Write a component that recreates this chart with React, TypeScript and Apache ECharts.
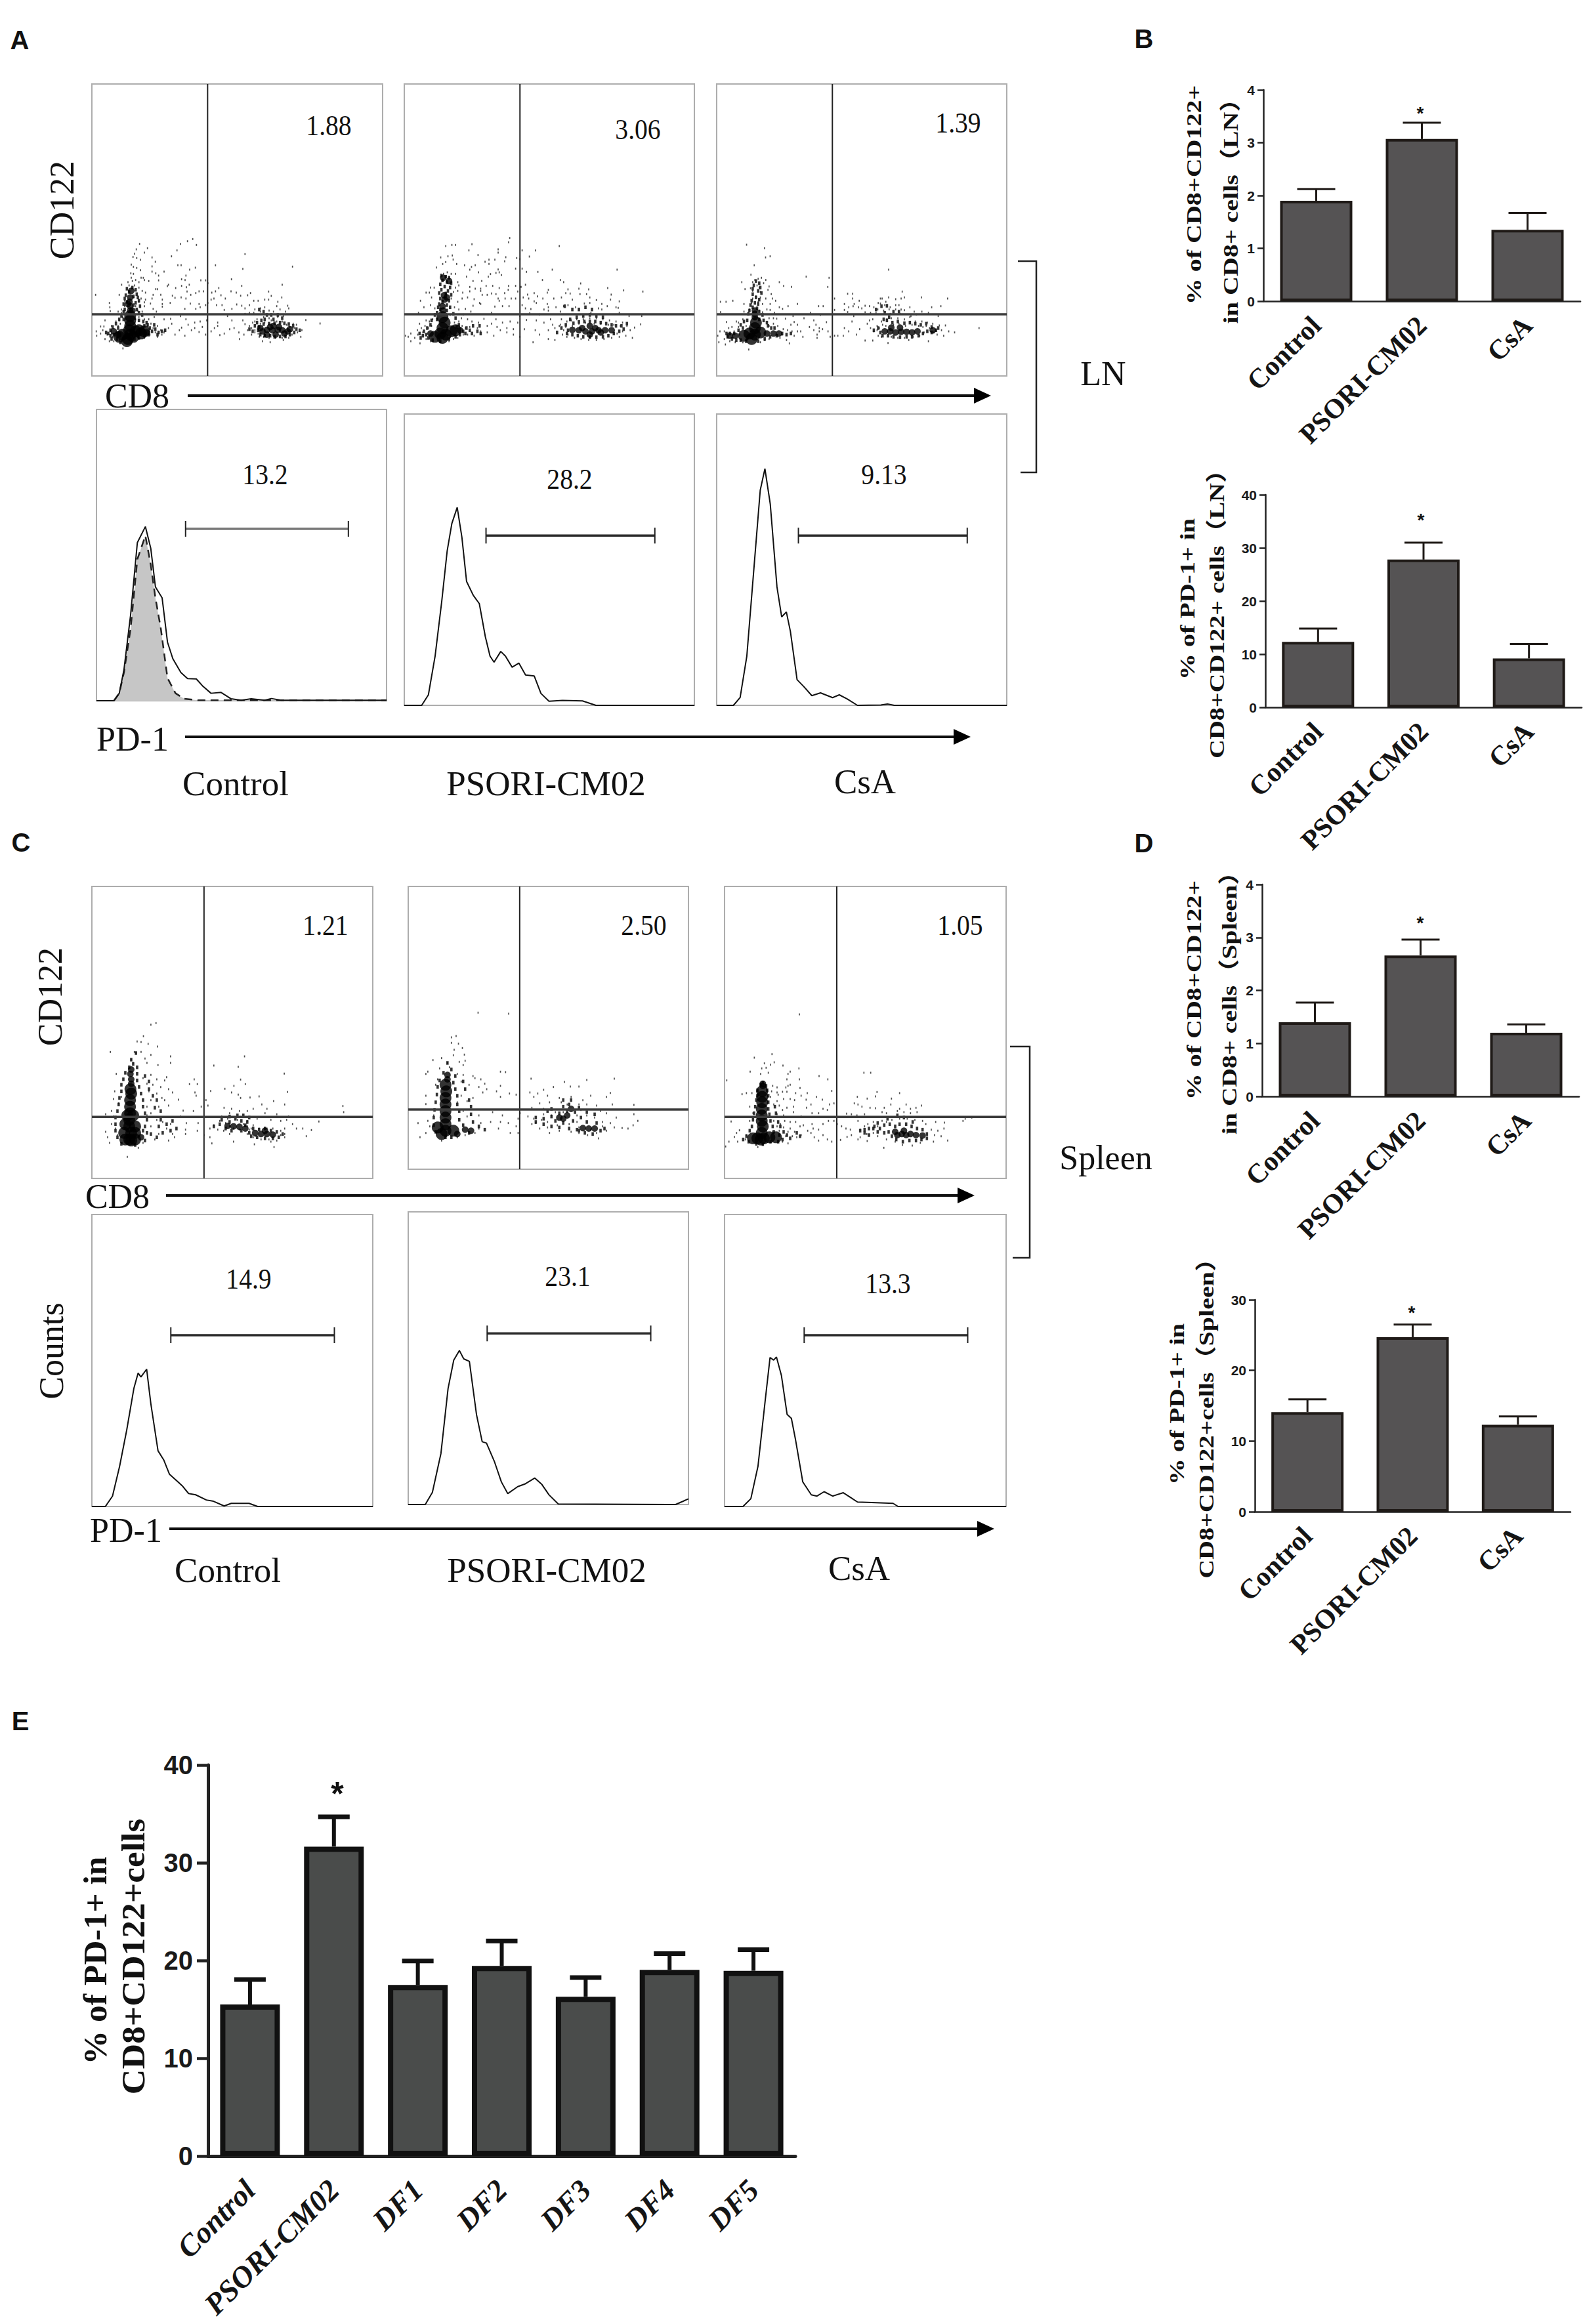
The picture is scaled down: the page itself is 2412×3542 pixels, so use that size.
import React, { useEffect, useRef } from "react";
import * as echarts from "echarts";

// ---------- bar panels ----------
const cats3 = ["Control", "PSORI-CM02", "CsA"];
const catsE = ["Control", "PSORI-CM02", "DF1", "DF2", "DF3", "DF4", "DF5"];
const lnCd122 = [1.9, 3.07, 1.35];
const lnCd122Err = [2.12, 3.38, 1.67];
const lnPd1 = [12.3, 27.8, 9.2];
const lnPd1Err = [14.8, 31, 11.9];
const spCd122 = [1.4, 2.66, 1.2];
const spCd122Err = [1.77, 2.96, 1.36];
const spPd1 = [14.1, 24.7, 12.3];
const spPd1Err = [15.9, 26.5, 13.5];
const dfPd1 = [15.5, 31.65, 17.5, 19.45, 16.3, 19.05, 18.95];
const dfPd1Err = [18.05, 34.7, 19.95, 22, 18.25, 20.7, 21.1];

// ---------- histograms (PD-1 channel, counts channel) ----------
const histLn1 = [144,1112,170,1112,178,1085,185,1000,195,800,205,540,217,482,225,560,232,700,242,740,250,900,258,960,270,1010,280,1032,293,1033,303,1060,315,1085,330,1082,345,1105,360,1110,375,1105,395,1110,405,1104,420,1110,577,1110];
const histLn1Iso = [170,1112,178,1085,185,1010,195,850,205,600,217,515,225,620,232,740,240,850,250,1030,262,1085,275,1105,295,1110,577,1110];
const histLn2 = [604,1128,630,1128,640,1090,650,950,660,750,668,570,675,470,683,412,690,520,697,680,707,730,716,760,725,880,732,950,738,972,748,933,755,950,765,990,775,975,785,1018,798,1022,808,1085,820,1113,840,1110,870,1112,890,1128,1037,1128];
const histLn3 = [1070,1128,1095,1128,1105,1100,1115,950,1125,650,1135,350,1142,272,1150,400,1160,700,1167,808,1174,790,1180,860,1190,1035,1200,1060,1212,1093,1225,1083,1243,1100,1253,1090,1265,1105,1280,1128,1315,1127,1325,1123,1335,1128,1503,1128];
const histSp1 = [129,1155,148,1155,158,1115,168,1000,178,860,188,700,194,640,198,655,206,625,212,760,222,940,230,975,238,1030,248,1055,256,1075,265,1105,275,1110,290,1130,300,1135,315,1153,325,1143,350,1143,362,1155,524,1155];
const histSp2 = [574,1147,598,1147,608,1100,620,950,630,700,638,590,646,553,652,585,660,595,670,800,678,905,684,910,695,980,705,1060,714,1105,728,1078,738,1068,752,1045,762,1070,772,1110,785,1145,950,1147,960,1135,968,1125];
const histSp3 = [1018,1155,1044,1155,1055,1125,1065,1000,1075,750,1082,580,1087,590,1091,578,1098,650,1106,800,1112,815,1118,900,1128,1060,1140,1110,1148,1115,1158,1098,1170,1115,1185,1102,1195,1120,1205,1138,1225,1140,1255,1143,1262,1155,1414,1155];

// ---------- flow cytometry dot plots (CD8 channel, CD122 channel, read point by point) ----------
const ln1Dense = [165,530,175,510,170,490,175,470,200,495,225,505,140,510,175,445,175,425,160,540,125,520,215,490,240,495,190,520];
const ln1Core = [175,400,175,380,172,360,175,340,180,310,165,370,185,400,120,510,100,495,250,500,830,470,780,495,800,510,840,510,880,505,905,485,770,480,800,488,825,490,850,488,870,490,895,495,815,475,855,475];
const ln1Mid = [160,300,185,295,200,305,170,315,205,325,155,330,190,335,210,340,150,345,215,355,160,360,200,365,145,370,190,375,220,380,150,395,205,395,145,405,215,410,230,420,135,425,125,440,145,440,215,445,235,450,250,455,110,460,120,480,95,475,85,490,100,510,85,515,75,505,65,500,90,530,115,530,130,545,195,530,215,525,240,515,260,510,275,495,265,480,255,465,240,470,290,485,305,500,285,465,300,510,320,495,335,490,720,485,735,495,745,470,755,455,775,445,760,490,770,510,790,515,815,515,835,520,860,518,885,518,905,510,925,500,935,485,920,470,900,462,880,458,860,455,835,458,810,460,785,462,765,475,950,490,790,440,830,440,800,420,785,405,765,395,820,420,850,420,870,435];
const ln1Dots = [218,95,254,115,203,120,240,135,195,140,188,155,205,160,222,168,275,157,290,177,364,152,389,125,405,95,437,83,461,73,478,100,180,190,190,200,205,205,222,215,275,198,393,193,408,193,447,213,473,204,330,222,275,222,292,230,305,240,178,230,190,232,235,250,430,240,410,257,426,260,498,262,520,262,530,275,305,262,260,265,565,193,700,142,690,209,917,199,638,257,685,287,870,282,808,313,180,250,165,270,200,260,215,270,240,260,225,250,185,265,170,285,195,285,215,295,230,310,245,318,136,282,350,282,345,288,383,297,410,287,432,293,445,282,300,302,292,302,280,328,315,328,368,332,322,350,322,370,322,382,358,365,380,342,408,340,430,345,435,313,452,328,475,320,490,312,510,312,548,318,565,312,580,297,590,330,610,345,636,312,660,318,680,332,712,330,725,320,820,333,868,340,125,328,17,328,80,365,82,385,84,403,120,405,135,395,245,350,240,362,275,345,268,368,280,392,295,405,425,392,450,368,475,392,490,370,495,385,520,375,530,365,545,350,558,345,570,375,595,375,605,397,640,392,662,372,685,378,700,390,720,375,740,355,760,355,790,350,808,350,850,360,845,380,895,378,900,390,745,395,770,390,790,385,810,400,830,405,860,395,885,405,720,410,700,415,740,410,770,405,285,430,330,440,360,438,405,425,430,440,470,455,495,450,525,445,575,455,620,425,640,445,690,445,700,462,720,470,735,455,755,440,785,430,810,435,850,430,875,425,920,460,978,443,1043,459,300,470,315,490,330,500,350,480,365,460,380,510,400,490,410,478,425,515,440,465,455,490,470,480,490,498,505,475,520,510,545,495,560,480,575,470,585,512,605,505,630,485,650,480,672,500,675,530,695,510,712,490,730,480,745,500,765,520,780,540,815,545,875,535,955,520,960,490,935,465,20,495,22,515,40,473,55,473,40,505,70,510,60,530,80,540,100,540,50,490,90,470,110,450,125,445,60,445,130,460,120,470,140,430,110,500,90,505,95,520,125,535,200,440,215,430,240,440,260,440,270,460,280,480,290,500,255,470,265,510,240,525,300,520,320,510,210,400,230,405,200,380,215,360,240,380,190,340,225,345,150,355,150,380,135,410,745,450,760,470,770,460,790,455,820,445,845,450,870,450,890,465,905,475,925,480,940,500,915,510,900,525,870,525,840,525,810,525,785,520,760,505,745,490,730,510,142,573];
const ln2Dense = [175,525,190,510,165,505,215,495,175,480,185,455,175,430,140,520,235,490];
const ln2Core = [178,400,175,380,185,350,182,330,178,250,205,265,195,340,120,505,255,490,800,490,830,495,860,495,890,490,920,490,770,488,950,490,850,510,850,470,815,480,875,480,900,500];
const ln2Mid = [170,240,190,245,205,250,175,262,195,270,215,275,165,280,185,290,210,295,170,305,200,310,160,320,190,322,215,328,165,345,205,355,175,360,160,370,195,375,155,385,210,385,165,395,195,400,150,410,225,415,140,420,235,435,150,440,125,445,120,465,105,480,90,495,100,510,110,525,85,515,75,525,70,505,130,535,165,540,205,530,235,520,255,510,270,495,285,480,300,490,315,470,250,465,240,475,280,505,310,505,335,495,350,505,345,470,700,500,720,480,740,465,750,490,745,505,770,510,795,515,820,520,850,522,880,522,910,520,935,515,960,505,985,495,1005,485,1020,460,995,470,970,470,950,465,925,460,900,455,875,450,850,450,825,450,800,452,775,458,760,440,790,430,820,425,850,420,880,425,910,430,800,395,830,385,770,395,735,380,860,395];
const ln2Dots = [483,68,478,88,710,105,601,125,540,125,430,120,430,135,310,97,296,125,235,100,218,100,190,105,338,146,573,153,465,156,530,165,515,160,220,148,200,152,167,157,224,167,190,178,176,187,240,187,276,193,325,193,388,167,388,187,370,177,415,167,460,175,147,203,300,213,308,200,510,208,540,208,430,212,435,225,420,228,445,238,678,213,975,213,612,223,560,223,197,225,180,232,215,232,235,232,340,225,395,233,385,245,355,265,285,245,315,265,245,270,250,285,633,260,715,260,730,270,808,276,555,282,535,292,510,287,478,287,435,297,375,287,405,287,350,300,325,300,300,292,932,297,1005,308,1093,313,800,300,845,303,750,303,660,305,655,318,520,313,476,305,460,320,400,322,420,325,380,328,357,328,350,310,300,312,268,318,265,345,100,318,115,318,125,340,137,295,120,295,74,355,90,385,120,375,140,390,65,410,225,315,245,310,235,295,215,345,245,360,230,385,250,395,290,340,320,348,345,365,350,370,315,378,280,392,305,405,430,345,435,355,490,345,510,345,462,345,450,380,480,380,415,382,565,327,595,320,610,335,545,340,570,345,595,358,605,365,635,345,655,370,660,385,540,375,555,390,580,393,640,395,660,400,685,345,720,340,740,320,760,322,805,325,835,325,850,340,770,350,730,380,695,385,715,405,750,375,785,385,825,368,850,365,880,352,905,370,890,390,948,327,985,358,970,385,980,388,945,350,930,380,905,395,400,410,270,418,210,420,575,412,620,418,855,410,985,410,1030,425,1088,425,1083,463,1055,478,1045,525,262,435,290,440,310,450,340,455,365,438,400,460,420,440,450,455,485,450,520,455,530,425,560,443,605,445,640,455,670,440,680,465,550,485,600,490,620,510,660,490,690,480,710,470,725,510,745,520,690,535,660,530,590,545,530,520,500,510,470,500,440,490,410,515,380,500,350,495,320,515,290,510,270,500,300,475,335,480,380,470,425,475,470,480,500,485,720,440,745,450,765,445,790,440,820,440,850,435,880,435,910,440,940,445,970,450,1000,455,1020,470,1035,490,1015,515,985,520,950,525,915,530,880,535,845,535,810,530,780,525,750,510,730,490,715,465,740,475,990,470,1000,495,975,505,960,465,935,465,900,460,870,460,830,455,800,460,770,470,5,515,18,520,30,505,30,540,48,525,72,550,62,510,78,480,70,460,95,470,110,480,60,490,85,500,100,530,120,540,115,450,130,440,125,470,100,445,230,455,250,450,265,470,280,480,270,510,245,525,225,530,205,540,165,545];
const ln3Dense = [160,530,175,510,150,505,200,500,175,480,180,455,125,515];
const ln3Core = [175,430,175,415,175,400,60,515,85,515,230,505,260,505,285,505,770,495,795,495,820,500,845,497,870,497,895,500,920,495,990,490,800,478,840,478];
const ln3Mid = [180,265,195,275,170,285,200,295,165,300,190,310,205,320,165,325,180,340,195,350,160,355,175,365,190,370,155,375,165,385,185,390,150,400,195,405,145,415,210,420,125,450,140,445,195,440,215,445,230,455,110,465,120,480,100,490,80,505,60,505,45,505,50,520,70,530,90,535,110,535,135,540,190,540,220,530,245,520,275,515,300,505,320,510,340,505,250,480,265,480,235,470,720,490,740,480,750,500,760,515,785,515,810,520,840,522,870,520,895,520,925,515,945,505,965,495,985,500,1005,490,1015,480,985,475,960,460,935,465,910,460,885,455,860,458,830,450,805,455,780,445,765,440,770,410,790,430,810,405,835,405,755,380,780,378,730,395];
const ln3Dots = [137,99,219,115,245,152,224,157,172,193,157,236,410,245,515,250,509,292,788,213,115,270,205,250,190,255,175,260,225,260,287,270,307,287,343,292,165,270,185,285,215,275,240,290,235,305,195,295,155,298,130,302,165,310,200,315,250,325,850,313,600,323,623,323,540,345,623,345,653,355,758,345,750,345,788,340,820,348,845,345,860,340,938,340,1058,345,17,360,43,360,74,355,125,370,165,345,180,335,200,340,225,345,255,345,270,355,160,365,190,360,210,370,245,370,370,370,327,380,287,385,302,392,467,380,488,380,585,370,630,370,625,380,605,385,680,378,700,380,650,385,665,390,720,385,740,365,750,368,775,360,770,375,795,385,820,375,835,375,885,385,985,385,1027,380,738,395,765,400,790,395,820,395,845,395,860,398,905,405,940,405,540,397,585,397,600,407,230,395,245,397,18,407,125,405,150,395,195,400,210,408,430,410,475,420,265,410,680,408,705,410,730,410,795,415,840,415,890,425,915,418,970,410,1015,425,90,450,120,440,100,455,45,452,135,470,240,435,260,435,275,437,315,437,350,425,355,452,400,435,445,445,503,453,425,475,455,465,470,480,485,485,445,490,470,495,460,510,460,525,510,495,520,520,540,515,555,515,585,480,605,495,580,515,640,510,655,485,620,450,628,425,690,460,700,445,715,440,705,480,720,495,735,470,755,450,780,440,800,435,830,435,860,440,885,430,910,450,940,450,965,455,990,460,1020,468,1048,468,1063,495,1090,500,1040,515,970,540,1010,510,1030,490,1202,480,680,537,715,537,785,548,880,535,740,515,5,515,15,495,10,545,35,495,35,530,40,555,55,480,70,475,80,495,60,540,75,525,100,475,105,510,85,545,120,545,147,578,240,470,260,460,280,470,305,485,325,490,345,495,370,495,385,495,395,520,355,515,320,535,333,550,300,510,290,525,240,530,220,535,200,545,340,465,370,465,745,480,735,490,755,520,800,520,830,525,860,525,900,520,930,515,950,500,960,470,975,480,995,500,945,475,925,470,895,465,865,470,835,460,810,465,775,470,760,465];
const sp1Dense = [95,650,100,620,95,590,95,560,97,530,97,500,97,470,100,440,98,420,82,620,110,620,85,580,110,590,90,540,105,540,100,655,85,650,110,650];
const sp1Core = [100,395,100,375,98,350,100,330,125,640,430,625,445,625,415,620,460,628,360,590,375,592,390,600,345,588,440,610];
const sp1Mid = [100,285,105,305,112,255,95,320,115,320,85,345,115,350,135,360,80,375,115,380,145,385,75,400,120,410,145,420,75,430,125,440,155,450,70,460,130,470,165,470,68,490,130,500,160,505,65,520,135,530,175,520,60,550,140,560,175,560,60,580,135,590,170,590,60,610,140,620,180,620,65,640,135,655,165,640,75,670,110,675,130,610,150,625,200,610,215,600,190,580,205,565,310,590,325,580,340,600,355,610,330,560,350,570,365,555,380,565,395,570,380,610,400,620,410,600,425,605,440,600,455,610,470,615,485,625,475,640,460,645,440,645,420,640,405,635,390,585,400,550,385,540,370,540,350,545];
const sp1Dots = [150,125,163,118,131,178,115,202,125,205,143,213,167,225,47,250,108,250,125,250,112,255,150,263,135,280,100,285,105,300,140,300,168,310,200,270,200,300,310,312,372,318,388,270,489,349,62,350,150,355,165,375,190,365,185,380,155,400,175,410,195,420,205,435,260,375,248,397,268,397,361,405,378,376,390,397,338,418,302,428,262,435,265,450,130,370,140,395,145,430,165,440,178,460,150,470,185,470,220,468,195,495,497,433,425,453,462,475,490,490,402,458,378,460,355,435,372,445,290,470,295,495,58,430,55,465,75,455,68,485,50,520,35,535,140,500,170,500,232,518,258,520,278,500,336,505,355,510,350,530,375,520,395,520,432,490,410,510,445,510,440,530,470,535,500,545,638,497,640,525,577,568,558,607,536,600,545,635,520,600,510,580,495,560,490,600,480,565,455,560,420,555,395,565,370,560,345,555,325,565,310,585,320,605,335,610,350,625,375,605,400,605,415,635,450,650,470,655,490,640,463,685,413,672,360,660,305,668,300,640,285,630,268,610,270,575,240,575,238,605,238,625,210,640,195,655,205,625,190,600,180,570,200,580,165,560,150,590,170,625,160,650,130,665,118,688,90,730,45,665,40,640,35,615,50,580,60,600,65,630,55,545,140,540,150,530,225,545,285,545,330,545,350,590,340,575,300,600,360,600,385,580,395,590,410,585,405,600,425,600,445,600,460,600,480,610,490,625,480,630,455,660,430,650,410,640,395,625];
const sp2Dense = [900,610,920,610,900,580,900,550,900,520,900,490,900,460,902,430,900,400,890,625,880,595];
const sp2Core = [905,375,905,355,950,605,930,625,965,610,1265,600,1250,598,1280,600,1200,555,1210,540,1190,550,1220,510];
const sp2Mid = [905,300,915,330,895,345,925,360,885,380,920,390,945,385,880,410,925,420,950,420,878,445,930,450,960,470,875,480,930,490,965,500,872,515,935,520,965,535,870,550,935,560,970,570,870,585,945,585,985,590,875,615,960,620,900,640,915,640,1000,605,1130,570,1150,580,1170,590,1190,595,1215,600,1235,605,1130,550,1150,555,1170,545,1190,530,1210,520,1230,525,1245,550,1260,570,1285,575,1305,600,1295,610,1275,625,1255,620,1240,610,1180,565,1200,575,1225,565,1200,500,1215,490,1240,505,1220,470,1200,470,1260,525,1160,520,1170,510,1280,535];
const sp2Dots = [983,70,1061,75,927,177,915,183,915,208,933,212,922,240,943,232,948,262,920,265,890,278,868,287,905,300,935,295,950,290,945,310,885,325,910,320,850,350,855,340,930,350,945,355,970,360,975,370,880,375,875,400,940,385,960,400,990,375,1000,395,985,410,1005,420,1040,340,1053,342,1040,405,1118,372,1203,387,1260,378,1330,372,1175,410,1150,423,1218,408,1240,408,1320,437,1115,435,1135,440,1080,445,1063,440,1040,455,1030,430,995,435,970,460,955,475,940,450,930,480,850,450,850,488,1125,455,1160,450,1190,460,1220,455,1250,470,1270,450,1310,455,1325,490,1380,492,1140,485,1165,480,1195,480,1260,490,1285,495,1120,505,1150,510,1240,490,1295,520,1310,530,1335,550,1380,535,1390,565,1378,585,1365,600,1350,598,1330,595,1310,610,1290,645,1262,630,1240,620,1220,615,1190,610,1165,620,1140,600,1120,580,1125,555,1110,545,1090,530,1085,555,1080,590,1085,620,1065,620,1035,600,1015,570,990,575,985,600,975,620,950,630,930,640,890,655,850,620,835,640,830,575,860,590,855,565,870,540,945,520,955,545,985,540,1020,525,1045,540,1060,575,1040,570,1170,540,1160,570,1145,560,1185,585,1215,580,1235,570,1240,595,1300,570,1320,575,1300,590,1285,620,1270,605,1160,595,1280,550,1260,540,1235,540,1245,515,1210,490,1180,525,1200,525,1150,535,1130,575];
const sp3Dense = [165,590,150,585,180,585,205,580,235,580,170,560,175,530,170,505,170,480,170,450,172,420,172,395,172,370,130,585];
const sp3Core = [175,345,175,335,790,570,810,565,830,570,850,565,875,570,905,572,780,555,820,550];
const sp3Mid = [175,330,165,340,190,345,150,365,195,365,150,390,200,390,145,410,200,420,140,440,200,450,230,440,135,470,205,475,235,470,130,500,210,505,245,510,125,530,220,530,255,530,115,550,225,555,270,555,100,575,250,570,285,570,85,590,110,600,145,610,175,612,210,600,245,600,265,590,300,585,330,560,345,575,620,550,640,545,660,540,685,530,710,540,730,525,755,520,780,530,800,520,830,520,855,530,880,540,905,545,925,565,925,585,900,590,875,595,845,595,815,600,785,590,765,575,750,555,730,560,700,555,680,540,640,560,660,570,700,515,745,495,790,480,820,490,860,510];
const sp3Dots = [342,18,217,200,136,216,227,237,182,242,210,248,267,252,340,265,300,280,290,290,190,262,170,265,117,280,165,290,200,285,10,320,285,315,342,315,432,300,472,315,290,345,300,340,280,352,240,352,345,355,490,368,265,372,285,372,100,378,80,383,125,378,240,375,325,378,378,378,350,390,420,395,447,408,373,408,300,405,320,410,270,405,245,385,220,345,215,370,210,395,240,415,225,430,250,435,395,430,375,445,480,430,500,425,285,445,315,440,315,465,265,455,450,450,470,455,115,440,130,470,400,470,430,470,350,485,240,475,270,480,637,285,668,285,697,373,607,395,652,403,690,393,800,378,763,403,593,425,610,430,628,440,665,445,690,447,730,445,760,430,800,450,830,430,850,450,875,445,900,435,880,465,850,470,820,465,790,460,740,470,720,465,558,472,580,475,605,480,640,475,30,508,115,505,275,505,300,510,325,510,345,530,360,525,400,520,405,540,430,545,450,520,475,505,500,505,515,520,535,530,555,540,575,545,610,505,640,530,620,545,655,520,680,510,700,530,720,505,740,510,765,500,800,495,835,495,870,500,905,505,920,520,945,545,965,510,1005,513,1003,540,975,550,960,570,990,575,1020,595,955,600,895,605,858,618,813,615,728,628,780,600,740,590,700,575,680,560,650,565,620,580,610,590,652,597,580,570,560,578,530,592,490,600,470,590,450,570,430,595,410,580,395,560,380,550,350,570,330,580,310,575,290,555,280,575,290,608,265,600,250,550,68,548,55,560,45,578,20,600,60,600,95,590,100,570,5,622,152,625,1090,505,1130,490,1100,495,225,505,240,530,255,520,220,555,270,535,300,540,320,555];

const pairs = (a: number[]) => {
  const out: number[][] = [];
  for (let i = 0; i < a.length; i += 2) out.push([a[i], a[i + 1]]);
  return out;
};

const SERIF = "'Liberation Serif', 'Noto Sans CJK SC', serif";
const SANS = "'Liberation Sans', sans-serif";

function buildOption() {
  const grid: any[] = [], xAxis: any[] = [], yAxis: any[] = [], series: any[] = [], elements: any[] = [];
  let g = 0;

  const txt = (text: string, x: number, y: number, size: number, o: any = {}) => {
    elements.push({
      type: "text", x, y, rotation: o.rot || 0, scaleX: o.sx || 1, scaleY: o.sy || 1, silent: true,
      style: {
        text, fontSize: size, fontFamily: o.family || SERIF, fontWeight: o.weight || "normal",
        fontStyle: o.style || "normal", fill: o.fill || "#111", align: "center", verticalAlign: "middle",
      },
    });
  };
  const vtxt = (text: string, x: number, y: number, size: number, o: any = {}) =>
    txt(text, x, y, size, { rot: Math.PI / 2, ...o });
  const num = (text: string, x: number, y: number) => txt(text, x, y, 45, { sx: 0.88 });
  const arrow = (x1: number, x2: number, y: number) => {
    elements.push({ type: "line", shape: { x1, y1: y, x2: x2 - 20, y2: y }, style: { stroke: "#111", lineWidth: 4 } });
    elements.push({ type: "polygon", shape: { points: [[x2 - 26, y - 12], [x2, y], [x2 - 26, y + 12]] }, style: { fill: "#000" } });
  };
  const bracket = (x1: number, x2: number, y1: number, y2: number) => {
    elements.push({
      type: "polyline", shape: { points: [[x1, y1], [x2, y1], [x2, y2], [x1 + 4, y2]] },
      style: { stroke: "#222", lineWidth: 2.5, fill: "none" },
    });
  };

  const frame = (l: number, t: number, r: number, b: number, xr: number[], yr: number[]) => {
    grid.push({ left: l, top: t, width: r - l, height: b - t, show: true, borderColor: "#adadad", borderWidth: 2, backgroundColor: "#fff" });
    xAxis.push({ type: "value", gridIndex: g, min: xr[0], max: xr[1], show: false });
    yAxis.push({ type: "value", gridIndex: g, min: yr[0], max: yr[1], inverse: true, show: false });
    return g++;
  };

  const dotPlot = (box: number[], xr: number[], yr: number[], dense: number[], core: number[], mid: number[], dots: number[], gx: number, gy: number) => {
    const i = frame(box[0], box[1], box[2], box[3], xr, yr);
    const base = { type: "scatter", xAxisIndex: i, yAxisIndex: i, silent: true, itemStyle: { color: "#000" } };
    series.push({ ...base, symbol: "rect", symbolSize: [1.7, 3], itemStyle: { color: "#222", opacity: 0.8 }, data: pairs(dots) });
    series.push({ ...base, symbol: "rect", symbolSize: [3.6, 5.5], itemStyle: { color: "#111", opacity: 0.85 }, data: pairs(mid) });
    series.push({ ...base, symbol: "circle", symbolSize: 10, data: pairs(core) });
    series.push({ ...base, symbol: "circle", symbolSize: 18, data: pairs(dense) });
    series.push({ type: "line", xAxisIndex: i, yAxisIndex: i, symbol: "none", silent: true, lineStyle: { color: "#222", width: 2 }, data: [[gx, yr[0]], [gx, yr[1]]] });
    series.push({ type: "line", xAxisIndex: i, yAxisIndex: i, symbol: "none", silent: true, lineStyle: { color: "#3c3c3c", width: 3.5 }, data: [[xr[0], gy], [xr[1], gy]] });
  };

  const histPanel = (box: number[], xr: number[], yr: number[], hist: number[], gate: number[], iso?: number[], gateColor = "#2a2a2a") => {
    const i = frame(box[0], box[1], box[2], box[3], xr, yr);
    if (iso) {
      series.push({
        type: "line", xAxisIndex: i, yAxisIndex: i, symbol: "none", silent: true, data: pairs(iso),
        lineStyle: { color: "#222", width: 2.5, type: [12, 8] }, areaStyle: { color: "#c6c6c6", opacity: 1, origin: "end" },
      });
    }
    series.push({ type: "line", xAxisIndex: i, yAxisIndex: i, symbol: "none", silent: true, data: pairs(hist), lineStyle: { color: "#111", width: 2 } });
    series.push({
      type: "custom", xAxisIndex: i, yAxisIndex: i, silent: true, data: [gate],
      renderItem: (_: any, api: any) => {
        const a = api.coord([api.value(0), api.value(2)]);
        const b = api.coord([api.value(1), api.value(2)]);
        const s = { stroke: gateColor, lineWidth: 3.5 };
        const c = { stroke: "#222", lineWidth: 2 };
        return {
          type: "group", children: [
            { type: "line", shape: { x1: a[0], y1: a[1], x2: b[0], y2: b[1] }, style: s },
            { type: "line", shape: { x1: a[0], y1: a[1] - 12, x2: a[0], y2: a[1] + 12 }, style: c },
            { type: "line", shape: { x1: b[0], y1: b[1] - 12, x2: b[0], y2: b[1] + 12 }, style: c },
          ],
        };
      },
    });
  };

  const barPanel = (cfg: any) => {
    const { left, right, top, bottom, cats, values, errs, max, interval, barW, border, fill, stroke, capHalf, stemW, capW, axisW, tick, labelSize, labelMargin, labelStyle, tickLen, tickSize, tickMargin, xTickLen } = cfg;
    grid.push({ left, top, width: right - left, height: bottom - top });
    xAxis.push({
      type: "category", gridIndex: g, data: cats,
      axisLine: { lineStyle: { color: "#222", width: axisW } },
      axisTick: { alignWithLabel: true, length: xTickLen, lineStyle: { color: "#222", width: tick } },
      axisLabel: { interval: 0, rotate: 45, margin: labelMargin, fontFamily: SERIF, fontWeight: "bold", fontStyle: labelStyle, fontSize: labelSize, color: "#151515" },
    });
    yAxis.push({
      type: "value", gridIndex: g, min: 0, max, interval, splitLine: { show: false },
      axisLine: { show: true, lineStyle: { color: "#222", width: axisW } },
      axisTick: { show: true, length: tickLen, lineStyle: { color: "#222", width: tick } },
      axisLabel: { margin: tickMargin, fontFamily: SANS, fontWeight: "bold", fontSize: tickSize, color: "#1a1a1a" },
    });
    series.push({
      type: "custom", xAxisIndex: g, yAxisIndex: g, silent: true, z: 1,
      data: errs.map((e: number, i: number) => [i, values[i], e]),
      renderItem: (_: any, api: any) => {
        const lo = api.coord([api.value(0), api.value(1)]);
        const hi = api.coord([api.value(0), api.value(2)]);
        const s = { stroke: stroke, lineWidth: stemW };
        const c = { stroke: stroke, lineWidth: capW };
        return {
          type: "group", children: [
            { type: "line", shape: { x1: lo[0], y1: lo[1], x2: hi[0], y2: hi[1] }, style: s },
            { type: "line", shape: { x1: hi[0] - capHalf, y1: hi[1], x2: hi[0] + capHalf, y2: hi[1] }, style: c },
          ],
        };
      },
    });
    series.push({
      type: "bar", xAxisIndex: g, yAxisIndex: g, silent: true, z: 2, barWidth: barW, data: values,
      itemStyle: { color: fill, borderColor: stroke, borderWidth: border },
    });
    g++;
  };

  // Panel A
  dotPlot([140, 128, 583, 573], [0, 1329], [-636, 699], ln1Dense, ln1Core, ln1Mid, ln1Dots, 529, 417);
  dotPlot([616, 128, 1058, 573], [0, 1329], [-636, 699], ln2Dense, ln2Core, ln2Mid, ln2Dots, 530, 417);
  dotPlot([1092, 128, 1534, 573], [0, 1329], [-636, 699], ln3Dense, ln3Core, ln3Mid, ln3Dots, 530, 417);
  histPanel([147, 624, 589, 1068], [144, 577], [58, 1112], histLn1, [277, 520, 490], histLn1Iso, "#777");
  histPanel([616, 631, 1058, 1075], [604, 1037], [74, 1128], histLn2, [726, 978, 514]);
  histPanel([1092, 631, 1534, 1075], [1070, 1503], [74, 1128], histLn3, [1192, 1444, 514]);

  // Panel C
  dotPlot([140, 1351, 568, 1796], [0, 714], [-507, 828], sp1Dense, sp1Core, sp1Mid, sp1Dots, 285, 547);
  dotPlot([622, 1351, 1049, 1782], [805, 1519], [-507, 786], sp2Dense, sp2Core, sp2Mid, sp2Dots, 1089, 513);
  dotPlot([1104, 1351, 1533, 1796], [0, 1287], [-567, 768], sp3Dense, sp3Core, sp3Mid, sp3Dots, 513, 487);
  histPanel([140, 1851, 568, 2296], [129, 524], [28, 1155], histSp1, [240, 470, 494]);
  histPanel([622, 1847, 1049, 2293], [574, 968], [18, 1147], histSp2, [685, 915, 487]);
  histPanel([1104, 1851, 1533, 2296], [1018, 1414], [28, 1155], histSp3, [1130, 1360, 494]);

  const small = { barW: 110, border: 4, fill: "#555354", stroke: "#1f1a17", capHalf: 29, stemW: 3, capW: 3, axisW: 2.5, tick: 2.5, labelSize: 42, labelMargin: 30, labelStyle: "normal", tickLen: 9, tickSize: 21, tickMargin: 13, xTickLen: 9 };
  barPanel({ ...small, left: 1925, right: 2408, top: 137, bottom: 459, cats: cats3, values: lnCd122, errs: lnCd122Err, max: 4, interval: 1 });
  barPanel({ ...small, left: 1928, right: 2410, top: 754, bottom: 1078, cats: cats3, values: lnPd1, errs: lnPd1Err, max: 40, interval: 10 });
  barPanel({ ...small, left: 1923, right: 2406, top: 1348, bottom: 1671, cats: cats3, values: spCd122, errs: spCd122Err, max: 4, interval: 1 });
  barPanel({ ...small, left: 1912, right: 2393, top: 1981, bottom: 2304, cats: cats3, values: spPd1, errs: spPd1Err, max: 30, interval: 10 });
  barPanel({ left: 317, right: 1212, top: 2690, bottom: 3286, cats: catsE, values: dfPd1, errs: dfPd1Err, max: 40, interval: 10, barW: 91, border: 8, fill: "#4a4c4b", stroke: "#111", capHalf: 24, stemW: 6, capW: 7, axisW: 5, tick: 4.5, labelSize: 46, labelMargin: 44, labelStyle: "italic", tickLen: 17, tickSize: 40, tickMargin: 23, xTickLen: 20 });

  // Panel letters
  [["A", 30, 61], ["B", 1743, 59], ["C", 32, 1284], ["D", 1743, 1285], ["E", 31, 2623]].forEach(([t, x, y]: any) =>
    txt(t, x, y, 40, { family: SANS, weight: "bold" }));

  // Panel A texts
  vtxt("CD122", 94, 320, 52);
  txt("CD8", 209, 603, 52);
  arrow(286, 1510, 603);
  txt("PD-1", 202, 1126, 52);
  arrow(282, 1479, 1123);
  txt("Control", 359, 1194, 53);
  txt("PSORI-CM02", 832, 1194, 53);
  txt("CsA", 1318, 1191, 53);
  num("1.88", 501, 191);
  num("3.06", 972, 197);
  num("1.39", 1460, 187);
  num("13.2", 404, 723);
  num("28.2", 868, 730);
  num("9.13", 1347, 723);
  bracket(1551, 1579, 398, 720);
  txt("LN", 1681, 569, 52);

  // Panel C texts
  vtxt("CD122", 76, 1519, 52);
  txt("CD8", 179, 1823, 52);
  arrow(253, 1485, 1822);
  vtxt("Counts", 78, 2059, 52);
  txt("PD-1", 192, 2332, 52);
  arrow(258, 1515, 2330);
  txt("Control", 347, 2393, 53);
  txt("PSORI-CM02", 833, 2393, 53);
  txt("CsA", 1309, 2390, 53);
  num("1.21", 496, 1410);
  num("2.50", 981, 1410);
  num("1.05", 1463, 1410);
  num("14.9", 379, 1949);
  num("23.1", 865, 1945);
  num("13.3", 1353, 1956);
  bracket(1539, 1569, 1595, 1917);
  txt("Spleen", 1685, 1764, 52);

  // Bar panel titles
  const t = { weight: "bold", sx: 1.25 };
  vtxt("% of CD8+CD122+", 1819, 297, 32, t);
  vtxt("in CD8+ cells（LN）", 1875, 312, 32, t);
  vtxt("% of PD-1+ in", 1809, 913, 32, t);
  vtxt("CD8+CD122+ cells（LN）", 1854, 926, 32, t);
  vtxt("% of CD8+CD122+", 1819, 1509, 32, t);
  vtxt("in CD8+ cells（Spleen）", 1873, 1519, 32, t);
  vtxt("% of PD-1+ in", 1793, 2140, 32, t);
  vtxt("CD8+CD122+cells（Spleen）", 1838, 2152, 32, t);
  vtxt("% of PD-1+ in", 145, 2988, 50, { weight: "bold", sx: 1.03 });
  vtxt("CD8+CD122+cells", 203, 2982, 50, { weight: "bold", sx: 1.07 });

  // Significance stars
  txt("*", 2164, 172, 28, { weight: "bold", family: SANS });
  txt("*", 2165, 792, 28, { weight: "bold", family: SANS });
  txt("*", 2164, 1406, 28, { weight: "bold", family: SANS });
  txt("*", 2151, 2000, 28, { weight: "bold", family: SANS });
  txt("*", 514, 2734, 50, { weight: "bold", family: SANS });

  return { animation: false, backgroundColor: "#fff", grid, xAxis, yAxis, series, graphic: { elements } };
}

export default function App() {
  const ref = useRef<HTMLDivElement>(null);
  useEffect(() => {
    const chart = echarts.init(ref.current!, null, { renderer: "svg" });
    chart.setOption(buildOption() as any);
    return () => chart.dispose();
  }, []);
  return <div ref={ref} style={{ position: "absolute", left: 0, top: 0, width: 2412, height: 3542 }} />;
}
